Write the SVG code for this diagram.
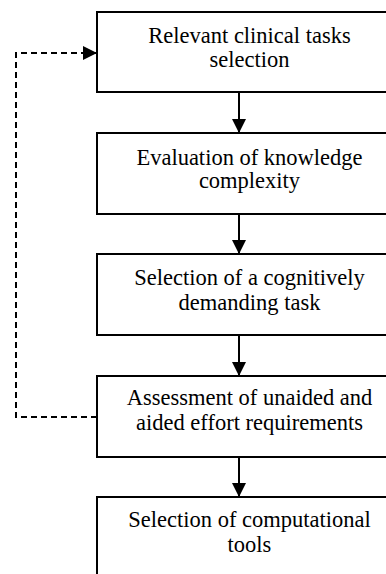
<svg xmlns="http://www.w3.org/2000/svg" width="386" height="574" viewBox="0 0 386 574">
<style>
.box{fill:#fff;stroke:#000;stroke-width:2}
.t{font-family:'Liberation Serif','Times New Roman',serif;font-size:22.5px;fill:#000;text-anchor:middle}
.c{fill:none;stroke:#000;stroke-width:2}
.d{fill:none;stroke:#000;stroke-width:2;stroke-dasharray:6,4}
</style>
<defs>
<marker id="ah" markerWidth="14" markerHeight="14" viewBox="0 0 14 14" refX="14" refY="7" orient="auto" markerUnits="userSpaceOnUse">
<path d="M0,0 L14,7 L0,14 Z" fill="#000"/>
</marker>
</defs>
<rect width="386" height="574" fill="#fff"/>
<g id="connectors">
<line class="c" x1="239" y1="92" x2="239" y2="133" marker-end="url(#ah)"/>
<line class="c" x1="239" y1="214" x2="239" y2="254" marker-end="url(#ah)"/>
<line class="c" x1="239" y1="335" x2="239" y2="376" marker-end="url(#ah)"/>
<line class="c" x1="239" y1="457" x2="239" y2="497" marker-end="url(#ah)"/>
<path class="d" d="M97,417 H16 V53 H97" marker-end="url(#ah)"/>
</g>
<g id="n1">
<rect class="box" x="97" y="12" width="310" height="80"/>
<text class="t" x="249.5" y="43">Relevant clinical tasks</text>
<text class="t" x="249.5" y="67">selection</text>
</g>
<g id="n2">
<rect class="box" x="97" y="133" width="310" height="81"/>
<text class="t" x="249.5" y="165">Evaluation of knowledge</text>
<text class="t" x="249.5" y="188">complexity</text>
</g>
<g id="n3">
<rect class="box" x="97" y="254" width="310" height="81"/>
<text class="t" x="249.5" y="285">Selection of a cognitively</text>
<text class="t" x="249.5" y="310">demanding task</text>
</g>
<g id="n4">
<rect class="box" x="97" y="376" width="310" height="81"/>
<text class="t" x="249.5" y="405">Assessment of unaided and</text>
<text class="t" x="249.5" y="430">aided effort requirements</text>
</g>
<g id="n5">
<rect class="box" x="97" y="497" width="310" height="90"/>
<text class="t" x="249.5" y="527">Selection of computational</text>
<text class="t" x="249.5" y="552">tools</text>
</g>
</svg>
